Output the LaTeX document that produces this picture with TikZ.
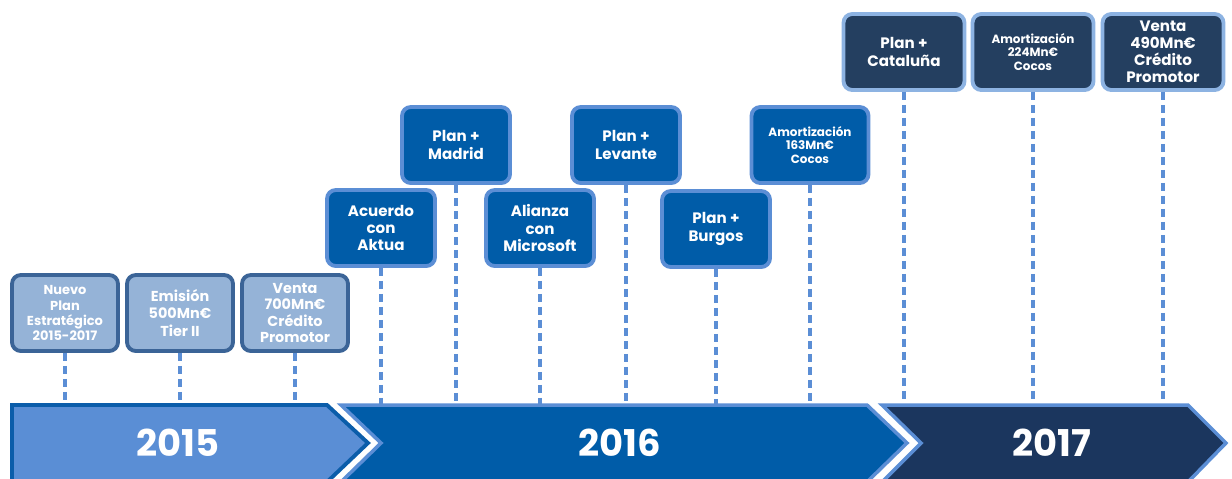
\documentclass[tikz,border=0pt]{standalone}
\usepackage{fontspec}
\setmainfont{Poppins}
\usepackage{xcolor}
\usepackage{tikz}
\usetikzlibrary{positioning}
\definecolor{fillA}{HTML}{95B3D7}
\definecolor{lineA}{HTML}{3B6497}
\definecolor{fillB}{HTML}{005CA8}
\definecolor{lineB}{HTML}{5B8ED5}
\definecolor{fillC}{HTML}{243F60}
\definecolor{lineC}{HTML}{8DB3E2}
\definecolor{year15}{HTML}{5A8ED5}
\definecolor{edge15}{HTML}{0B5DAA}
\definecolor{year17}{HTML}{1B365E}
\tikzset{
  hito/.style={draw, rounded corners=5pt, line width=2.2pt, text=white, align=center,
    inner sep=0pt, font=\bfseries\fontsize{8.6}{9.8}\selectfont},
  hitoA/.style={hito, fill=fillA, draw=lineA, minimum width=2.12cm, minimum height=1.52cm,
    font=\bfseries\fontsize{7.4}{8.6}\selectfont},
  hitoB/.style={hito, fill=fillB, draw=lineB, minimum width=2.16cm, minimum height=1.52cm},
  hitoC/.style={hito, fill=fillC, draw=lineC, minimum width=2.42cm, minimum height=1.52cm},
  chico/.style={font=\bfseries\fontsize{6.8}{7.8}\selectfont},
  enlace/.style={draw=lineB, line width=2.5pt, dash pattern=on 4.8pt off 2.6pt},
  anio/.style={text=white, font=\bfseries\fontsize{21}{24}\selectfont}
}
\begin{document}
\begin{tikzpicture}[x=0.02cm, y=-0.02cm]
	\useasboundingbox (0,0) rectangle (1232,478);
	\clip (0,0) rectangle (1232,478);
	\coordinate (linea) at (0,404);

	\node[hitoA] (nuevo) at (65,313) {Nuevo\\Plan\\Estratégico\\2015-2017};
	\node[hitoA, font=\bfseries\fontsize{8.2}{9.8}\selectfont] (emision) at (180,313) {Emisión\\500Mn€\\Tier II};
	\node[hitoA, font=\bfseries\fontsize{8.2}{9.4}\selectfont] (venta15) at (295,313) {Venta\\700Mn€\\Crédito\\Promotor};

	\node[hitoB] (aktua) at (381,228) {Acuerdo\\con\\Aktua};
	\node[hitoB] (madrid) at (456,145) {Plan +\\Madrid};
	\node[hitoB] (microsoft) at (540,228) {Alianza\\con\\Microsoft};
	\node[hitoB] (levante) at (626,145) {Plan +\\Levante};
	\node[hitoB] (burgos) at (716,229) {Plan +\\Burgos};
	\node[hitoB, chico, minimum width=2.34cm] (cocos16) at (810,145) {Amortización\\163Mn€\\Cocos};

	\node[hitoC] (cataluna) at (904,52) {Plan +\\Cataluña};
	\node[hitoC, chico] (cocos17) at (1033,52) {Amortización\\224Mn€\\Cocos};
	\node[hitoC, font=\bfseries\fontsize{8.6}{9.6}\selectfont] (venta17) at (1163,52) {Venta\\490Mn€\\Crédito\\Promotor};

	\foreach \n in {nuevo,emision,venta15,aktua,madrid,microsoft,levante,burgos,cocos16,cataluna,cocos17,venta17}
		\draw[enlace] (\n.south) -- (\n.south |- linea);

	\draw[fill=year15, draw=edge15, line width=2.2pt] (12,405) -- (327,405) -- (368,443) -- (327,482) -- (12,482) -- cycle;
	\draw[fill=fillB, draw=lineB, line width=2pt] (341,405) -- (867,405) -- (907,443) -- (867,482) -- (341,482) -- (381,443) -- cycle;
	\draw[fill=year17, draw=lineB, line width=2pt] (882,405) -- (1188,405) -- (1226,443) -- (1188,482) -- (882,482) -- (921,443) -- cycle;

	\node[anio] (a15) at (178,443) {2015};
	\node[anio] (a16) at (620,443) {2016};
	\node[anio] (a17) at (1052,443) {2017};
\end{tikzpicture}
\end{document}
